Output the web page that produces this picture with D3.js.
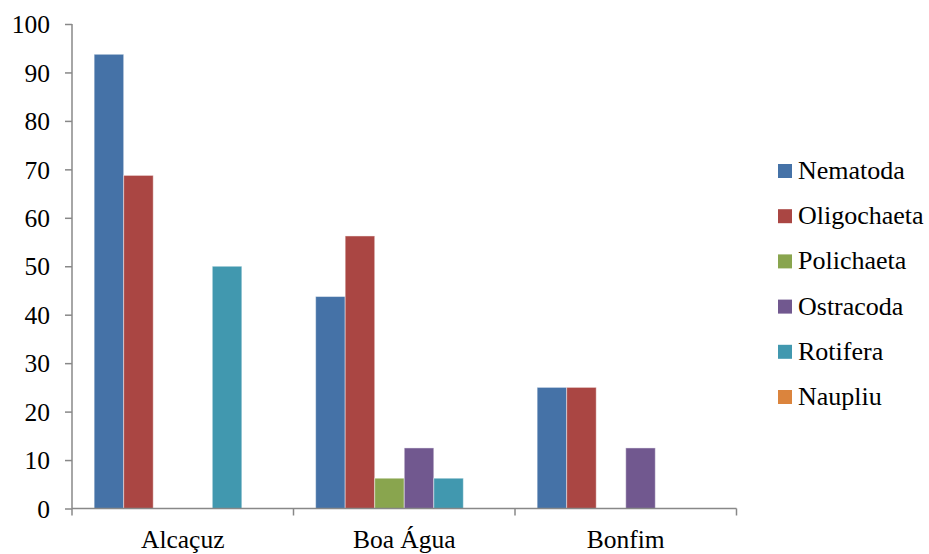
<!DOCTYPE html>
<html><head><meta charset="utf-8">
<script src="https://cdn.jsdelivr.net/npm/d3@7/dist/d3.min.js"></script>
</head><body style="margin:0">
<svg id="fauna" width="929" height="554"></svg>
<script>
// Sites on the x axis
const sites = ["Alcaçuz", "Boa Água", "Bonfim"];
// Taxa (one series each), values in %
const taxa = ["Nematoda", "Oligochaeta", "Polichaeta", "Ostracoda", "Rotifera", "Naupliu"];
const nematoda    = [93.75, 43.75, 25];
const oligochaeta = [68.75, 56.25, 25];
const polichaeta  = [0, 6.25, 0];
const ostracoda   = [0, 12.5, 12.5];
const rotifera    = [50, 6.25, 0];
const naupliu     = [0, 0, 0];
const yTicks = [0, 10, 20, 30, 40, 50, 60, 70, 80, 90, 100];
const colors = ["#4572A7", "#AA4643", "#89A54E", "#71588F", "#4198AF", "#DB843D"];

const seriesValues = [nematoda, oligochaeta, polichaeta, ostracoda, rotifera, naupliu];

const svg = d3.select("#fauna");
const plot = { left: 72, right: 736.5, top: 24, bottom: 508.5 };
const axisGrey = "#888";

// Serif label text
function serifText(sel, size) {
  return sel
    .attr("font-family", "Liberation Serif")
    .attr("fill", "#000")
    .attr("style", `font-family: 'Liberation Serif', Tinos, 'Times New Roman', serif !important; font-size: ${size}px !important;`);
}

const x0 = d3.scaleBand().domain(sites).range([plot.left, plot.right]).paddingInner(0).paddingOuter(0);
const x1 = d3.scaleBand().domain(taxa).range([0, x0.bandwidth()]).paddingOuter(0.75).paddingInner(0);
const y = d3.scaleLinear().domain([0, 100]).range([plot.bottom, plot.top]);
const color = d3.scaleOrdinal().domain(taxa).range(colors);

// Bars
const groups = svg.append("g").selectAll("g")
  .data(sites)
  .join("g")
  .attr("transform", d => `translate(${x0(d)},0)`);

groups.selectAll("rect")
  .data((site, i) => taxa.map((t, k) => ({ taxon: t, value: seriesValues[k][i] })))
  .join("rect")
  .filter(d => d.value > 0)
  .attr("x", d => x1(d.taxon))
  .attr("y", d => y(d.value))
  .attr("width", x1.bandwidth())
  .attr("height", d => plot.bottom - y(d.value))
  .attr("fill", d => color(d.taxon))
  .attr("stroke", "rgba(255,255,255,0.45)")
  .attr("stroke-width", 1);

// Y axis
const yAxis = d3.axisLeft(y).tickValues(yTicks).tickSize(7).tickPadding(15);
const gy = svg.append("g").attr("transform", `translate(${plot.left},0)`).call(yAxis);
gy.attr("font-family", "Liberation Serif").attr("font-size", 25.5);
gy.select(".domain").attr("stroke", axisGrey).attr("stroke-width", 1.5).attr("d", `M0,${plot.top}V${plot.bottom}`);
gy.selectAll(".tick line").attr("stroke", axisGrey).attr("stroke-width", 1.5);
serifText(gy.selectAll(".tick text"), 25.5).attr("dy", "0.34em");

// X axis: boundary ticks between categories
const xAxisG = svg.append("g");
xAxisG.append("line")
  .attr("x1", plot.left).attr("x2", plot.right)
  .attr("y1", plot.bottom).attr("y2", plot.bottom)
  .attr("stroke", axisGrey).attr("stroke-width", 1.5);
const bounds = sites.map(s => x0(s)).concat([x0(sites[sites.length - 1]) + x0.bandwidth()]);
xAxisG.selectAll("line.tick")
  .data(bounds)
  .join("line")
  .attr("class", "tick")
  .attr("x1", d => d).attr("x2", d => d)
  .attr("y1", plot.bottom).attr("y2", plot.bottom + 7)
  .attr("stroke", axisGrey).attr("stroke-width", 1.5);
serifText(xAxisG.selectAll("text")
  .data(sites)
  .join("text")
  .attr("x", d => x0(d) + x0.bandwidth() / 2)
  .attr("y", 548)
  .attr("text-anchor", "middle"), 25.5)
  .text(d => d);

// Legend
const legend = svg.append("g").attr("transform", "translate(778,164)");
const item = legend.selectAll("g")
  .data(taxa)
  .join("g")
  .attr("transform", (d, i) => `translate(0,${i * 45.2})`);
item.append("rect")
  .attr("width", 14).attr("height", 14)
  .attr("fill", d => color(d));
serifText(item.append("text")
  .attr("x", 20).attr("y", 15), 26)
  .text(d => d);
</script>
</body></html>
